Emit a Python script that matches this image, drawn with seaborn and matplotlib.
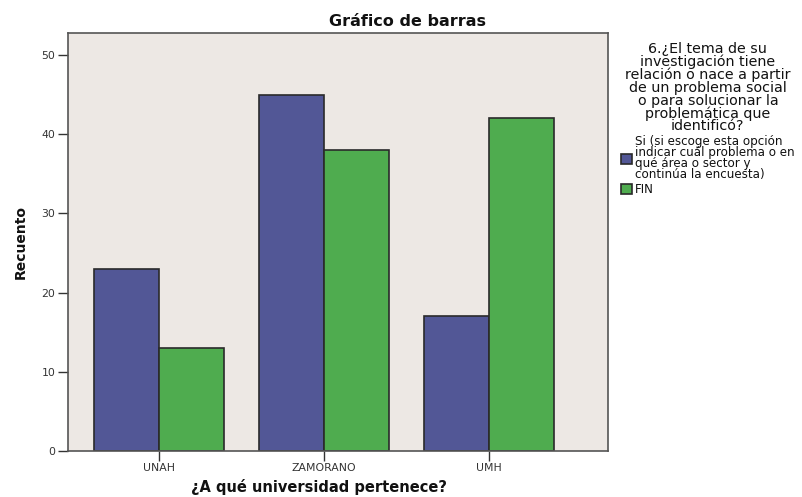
import pandas as pd
import matplotlib.pyplot as plt
import seaborn as sns

# datos del grafico
universidades = ["UNAH", "ZAMORANO", "UMH"]
respuestas = ["Si (si escoge esta opción\nindicar cuál problema o en\nqué área o sector y\ncontinúa la encuesta)", "FIN"]
recuento_si = [23, 45, 17]
recuento_fin = [13, 38, 42]

df = pd.DataFrame({
    "universidad": universidades * 2,
    "respuesta": [respuestas[0]] * 3 + [respuestas[1]] * 3,
    "recuento": recuento_si + recuento_fin,
})

sns.set_style("white")
plt.rcParams['font.family'] = ['DejaVu Sans']
plt.rcParams['text.color'] = '#111111'
plt.rcParams['axes.labelcolor'] = '#111111'

fig = plt.figure(figsize=(8.03, 4.97), dpi=100)
ax = fig.add_axes([0.0847, 0.0926, 0.672, 0.841])
ax.set_facecolor("#ede8e4")

sns.barplot(data=df, x="universidad", y="recuento", hue="respuesta",
            palette=["#525796", "#4fac4f"], width=0.79, gap=0,
            edgecolor="#2a2a2a", linewidth=1.2, saturation=1, ax=ax)

ax.set_xlim(-0.55, 2.72)
ax.set_ylim(0, 52.8)
ax.set_yticks([0, 10, 20, 30, 40, 50])
for s in ax.spines.values():
    s.set_color("#555555")
    s.set_linewidth(1.2)
ax.tick_params(axis="both", direction="out", length=7, width=1, color="#333333",
               labelsize=7.8, labelcolor="#333333", bottom=True, left=True, pad=2)
ax.set_xlabel("¿A qué universidad pertenece?", fontsize=10.5, fontweight="bold")
ax.xaxis.set_label_coords(0.465, -0.068)
ax.set_ylabel("Recuento", fontsize=10, fontweight="bold", labelpad=10)

fig.text(0.508, 0.948, "Gráfico de barras", ha="center", fontsize=11.5, fontweight="bold")

ax.get_legend().remove()
h, l = ax.get_legend_handles_labels()
leg = fig.legend(h, l, loc="upper left", bbox_to_anchor=(0.768, 0.925),
                 title="6.¿El tema de su\ninvestigación tiene\nrelación o nace a partir\nde un problema social\no para solucionar la\nproblemática que\nidentificó?",
                 frameon=False, fontsize=8.6, title_fontsize=10.3,
                 handlelength=0.9, handleheight=0.9, handletextpad=0.2,
                 labelspacing=0.15, borderaxespad=0)
leg.get_title().set_multialignment("center")
leg.get_title().set_linespacing(0.88)
for t in leg.get_texts():
    t.set_linespacing(0.8)

plt.savefig("out.png", dpi=100)
